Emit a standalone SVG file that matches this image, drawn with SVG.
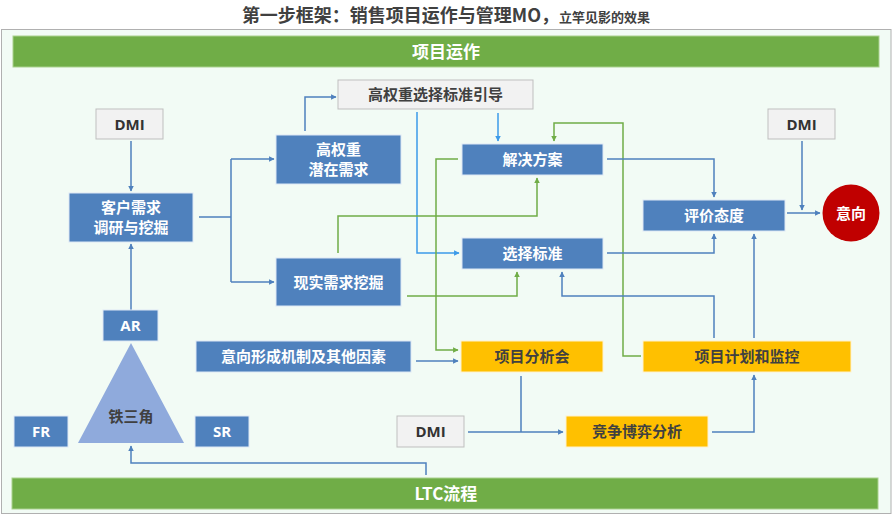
<svg xmlns="http://www.w3.org/2000/svg" width="893" height="516" viewBox="0 0 893 516">
<defs>
<style>
.t{font-family:"Noto Sans CJK SC","Noto Sans",sans-serif;font-weight:bold;text-anchor:middle}
.w{fill:#FFFFFF;font-size:15px}
.d{fill:#404040;font-size:15px}
.lat{font-family:"Open Sans","Noto Sans","Noto Sans CJK SC",sans-serif;font-weight:bold;text-anchor:middle}
.blue{fill:#4F81BD;stroke:#DDE8F5;stroke-width:1}
.gray{fill:#F2F2F2;stroke:#BFBFBF;stroke-width:1}
.yel{fill:#FFC000;stroke:#FFF2CC;stroke-width:1}
.cb{fill:none;stroke:#4F81BD;stroke-width:1.5}
.cl{fill:none;stroke:#3D9BE9;stroke-width:1.5}
.cg{fill:none;stroke:#70AD47;stroke-width:1.5}
</style>
<marker id="ab" viewBox="0 0 10 10" refX="9" refY="5" markerWidth="5.5" markerHeight="5.5" orient="auto" markerUnits="userSpaceOnUse"><path d="M0,0 L10,5 L0,10 z" fill="#4F81BD"/></marker>
<marker id="al" viewBox="0 0 10 10" refX="9" refY="5" markerWidth="5.5" markerHeight="5.5" orient="auto" markerUnits="userSpaceOnUse"><path d="M0,0 L10,5 L0,10 z" fill="#3D9BE9"/></marker>
<marker id="ag" viewBox="0 0 10 10" refX="9" refY="5" markerWidth="5.5" markerHeight="5.5" orient="auto" markerUnits="userSpaceOnUse"><path d="M0,0 L10,5 L0,10 z" fill="#70AD47"/></marker>
</defs>
<rect x="0" y="0" width="893" height="516" fill="#FFFFFF"/>
<text x="446" y="22" class="t" fill="#404040" font-size="18">第一步框架：销售项目运作与管理MO，<tspan font-size="13">立竿见影的效果</tspan></text>
<rect x="1.5" y="29.5" width="889.5" height="484" fill="#F2FBF5" stroke="#B0B0B0" stroke-width="1"/>

<g id="top-bar"><rect x="13" y="36" width="866" height="31" fill="#70AD47" stroke="#A9D18E" stroke-width="1"/><text x="446" y="57.5" class="t" fill="#FFFFFF" font-size="17">项目运作</text></g>
<g id="bottom-bar"><rect x="12" y="478" width="866" height="31" fill="#70AD47" stroke="#A9D18E" stroke-width="1"/><text x="446" y="499.5" class="t" fill="#FFFFFF" font-size="17">LTC流程</text></g>

<g id="connectors">
<path class="cb" d="M131,141 V191" marker-end="url(#ab)"/>
<path class="cb" d="M131,310 V244" marker-end="url(#ab)"/>
<path class="cb" d="M199,217 H231 M231,159 V282 M231,159 H274" marker-end="url(#ab)"/>
<path class="cb" d="M231,282 H274" marker-end="url(#ab)"/>
<path class="cb" d="M305,131 V97 H336" marker-end="url(#ab)"/>
<path class="cl" d="M498,113 V141" marker-end="url(#al)"/>
<path class="cl" d="M417,112 V253 H459" marker-end="url(#al)"/>
<path class="cg" d="M641,356 H623 V123 H554 V141" marker-end="url(#ag)"/>
<path class="cg" d="M458,159 H436 V350 H458" marker-end="url(#ag)"/>
<path class="cg" d="M338,253 V216 H537 V178" marker-end="url(#ag)"/>
<path class="cg" d="M407,296 H517 V272" marker-end="url(#ag)"/>
<path class="cb" d="M607,159 H714 V197" marker-end="url(#ab)"/>
<path class="cb" d="M607,253 H714 V234" marker-end="url(#ab)"/>
<path class="cb" d="M714,338 V296 H562 V272" marker-end="url(#ab)"/>
<path class="cb" d="M754,338 V234" marker-end="url(#ab)"/>
<path class="cb" d="M787,213 H820" marker-end="url(#ab)"/>
<path class="cb" d="M802,141 V210" marker-end="url(#ab)"/>
<path class="cb" d="M416,361 H458" marker-end="url(#ab)"/>
<path class="cb" d="M521,376 V432 M468,432 H563" marker-end="url(#ab)"/>
<path class="cb" d="M712,432 H754 V375" marker-end="url(#ab)"/>
<path class="cb" d="M426,475 V463 H131 V446" marker-end="url(#ab)"/>
</g>

<g id="dmi-1"><rect x="96" y="109" width="67" height="30" class="gray"/><text x="129.5" y="129.5" class="lat" fill="#333333" font-size="15">DMI</text></g>
<g id="customer-needs"><rect x="69" y="193" width="124" height="49" class="blue"/><text x="131" y="213" class="t w">客户需求</text><text x="131" y="233" class="t w">调研与挖掘</text></g>
<g id="ar"><rect x="103" y="310" width="55" height="31" class="blue"/><text x="130.5" y="331" class="lat w">AR</text></g>
<g id="iron-triangle"><polygon points="131,343 78,443 184,443" fill="#8FAADC"/><text x="131" y="421.5" class="t d">铁三角</text></g>
<g id="fr"><rect x="14" y="416" width="54" height="31" class="blue"/><text x="41" y="437" class="lat w">FR</text></g>
<g id="sr"><rect x="195" y="416" width="54" height="31" class="blue"/><text x="222" y="437" class="lat w">SR</text></g>
<g id="high-weight"><rect x="276" y="135" width="125" height="49" class="blue"/><text x="338.5" y="155" class="t w">高权重</text><text x="338.5" y="175" class="t w">潜在需求</text></g>
<g id="real-needs"><rect x="276" y="258" width="125" height="48" class="blue"/><text x="338.5" y="287.5" class="t w">现实需求挖掘</text></g>
<g id="criteria-guide"><rect x="338" y="80" width="195" height="29" class="gray"/><text x="435.5" y="100" class="t d">高权重选择标准引导</text></g>
<g id="solution"><rect x="462" y="144" width="141" height="31" class="blue"/><text x="532.5" y="165" class="t w">解决方案</text></g>
<g id="criteria"><rect x="462" y="238" width="141" height="31" class="blue"/><text x="532.5" y="259" class="t w">选择标准</text></g>
<g id="intent-mechanism"><rect x="196" y="341" width="215" height="31" class="blue"/><text x="303.5" y="362" class="t w">意向形成机制及其他因素</text></g>
<g id="project-analysis"><rect x="461" y="341" width="142" height="31" class="yel"/><text x="532" y="362" class="t d">项目分析会</text></g>
<g id="project-plan"><rect x="643" y="341" width="208" height="31" class="yel"/><text x="747" y="362" class="t d">项目计划和监控</text></g>
<g id="dmi-3"><rect x="397" y="416" width="67" height="31" class="gray"/><text x="430.5" y="437" class="lat" fill="#333333" font-size="15">DMI</text></g>
<g id="competition"><rect x="566" y="416" width="142" height="31" class="yel"/><text x="637" y="437" class="t d">竞争博弈分析</text></g>
<g id="evaluation"><rect x="643" y="200" width="142" height="31" class="blue"/><text x="714" y="221" class="t w">评价态度</text></g>
<g id="dmi-2"><rect x="768" y="109" width="67" height="30" class="gray"/><text x="801.5" y="129.5" class="lat" fill="#333333" font-size="15">DMI</text></g>
<g id="intent"><circle cx="851" cy="213" r="28.5" fill="#C00000"/><text x="851" y="218.5" class="t w">意向</text></g>
</svg>
